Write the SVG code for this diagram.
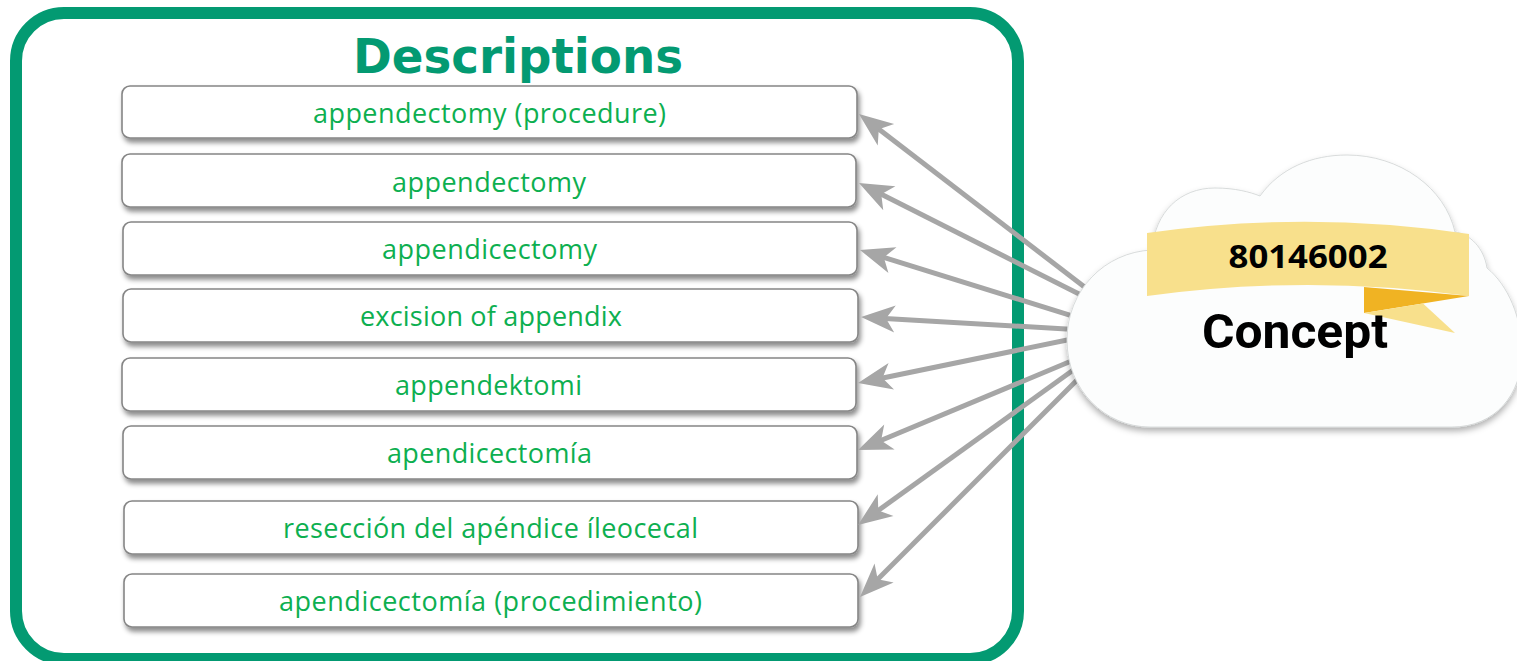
<svg xmlns="http://www.w3.org/2000/svg" width="1517" height="661" viewBox="0 0 1517 661">
<defs>
<style>
.frame{fill:#ffffff;stroke:#039A72;stroke-width:12}
.title{font-family:"DejaVu Sans",Verdana,sans-serif;font-weight:bold;font-size:48px;fill:#039A72}
.box{fill:#ffffff;stroke:#858585;stroke-width:1.6;filter:url(#sh)}
.lbl{font-family:"Open Sans","Noto Sans",sans-serif;font-size:27px;fill:#0DAF50;text-anchor:middle}
.conn{stroke:#A6A6A6;stroke-width:5;fill:none;marker-end:url(#ah)}
.cloud{fill:#FCFDFD;stroke:#cfd3d3;stroke-width:0.8;filter:url(#csh)}
.num{font-family:"Open Sans","Liberation Sans",sans-serif;font-weight:bold;font-size:32px;fill:#000;text-anchor:middle}
.con{font-family:Roboto,"Liberation Sans",Arial,sans-serif;font-weight:bold;font-size:48px;fill:#000;text-anchor:middle}
</style>
<filter id="sh" x="-5%" y="-30%" width="110%" height="170%">
<feDropShadow dx="2" dy="4" stdDeviation="2.5" flood-color="#000" flood-opacity="0.45"/>
</filter>
<filter id="csh" x="-10%" y="-10%" width="120%" height="130%">
<feDropShadow dx="0" dy="4" stdDeviation="3" flood-color="#000" flood-opacity="0.3"/>
</filter>
<marker id="ah" markerUnits="userSpaceOnUse" orient="auto" markerWidth="40" markerHeight="32" viewBox="-12 -16 40 32" refX="0" refY="0">
<path d="M24,0 L-10,-13.5 L-1,0 L-10,13.5 Z" fill="#A6A6A6"/>
</marker>
</defs>

<g id="frame">
<rect class="frame" x="16" y="13" width="1002" height="646" rx="48" ry="48"/>
<text class="title" x="518" y="73" text-anchor="middle" textLength="330" lengthAdjust="spacingAndGlyphs">Descriptions</text>
</g>

<g id="d1"><rect class="box" x="122" y="86" width="735" height="52" rx="8"/><text class="lbl" x="489.5" y="123" textLength="353" lengthAdjust="spacing">appendectomy (procedure)</text></g>
<g id="d2"><rect class="box" x="122" y="154" width="734" height="53" rx="8"/><text class="lbl" x="489" y="192" textLength="194" lengthAdjust="spacing">appendectomy</text></g>
<g id="d3"><rect class="box" x="123" y="222" width="734" height="53" rx="8"/><text class="lbl" x="489.5" y="259" textLength="215" lengthAdjust="spacing">appendicectomy</text></g>
<g id="d4"><rect class="box" x="123" y="289" width="735" height="53" rx="8"/><text class="lbl" x="491" y="326" textLength="262" lengthAdjust="spacing">excision of appendix</text></g>
<g id="d5"><rect class="box" x="122" y="358" width="734" height="53" rx="8"/><text class="lbl" x="488.5" y="395" textLength="187" lengthAdjust="spacing">appendektomi</text></g>
<g id="d6"><rect class="box" x="123" y="426" width="734" height="53" rx="8"/><text class="lbl" x="489.5" y="463" textLength="205" lengthAdjust="spacing">apendicectomía</text></g>
<g id="d7"><rect class="box" x="124" y="501" width="734" height="53" rx="8"/><text class="lbl" x="490.5" y="538" textLength="415" lengthAdjust="spacing">resección del apéndice íleocecal</text></g>
<g id="d8"><rect class="box" x="124" y="574" width="734" height="53" rx="8"/><text class="lbl" x="490.5" y="611" textLength="423" lengthAdjust="spacing">apendicectomía (procedimiento)</text></g>

<g id="connectors">
<line class="conn" x1="1097.9" y1="297.2" x2="878.0" y2="128.6"/>
<line class="conn" x1="1094.9" y1="302.0" x2="880.4" y2="193.8"/>
<line class="conn" x1="1088.1" y1="320.9" x2="882.9" y2="257.1"/>
<line class="conn" x1="1087.0" y1="330.2" x2="885.0" y2="318.4"/>
<line class="conn" x1="1086.6" y1="336.0" x2="881.5" y2="378.2"/>
<line class="conn" x1="1087.5" y1="354.3" x2="880.2" y2="440.8"/>
<line class="conn" x1="1088.2" y1="359.3" x2="877.5" y2="511.0"/>
<line class="conn" x1="1090.1" y1="366.9" x2="877.0" y2="580.0"/>
</g>

<g id="concept">
<path class="cloud" d="M1150,427 C1105,427 1067,390 1067,340 C1067,290 1105,252 1152,250 C1155,212 1180,188 1215,188 C1235,188 1250,192 1260,196 C1280,168 1312,155 1347,155 C1400,155 1445,188 1455,232 C1470,234 1484,248 1487,268 C1508,285 1522,318 1522,352 C1522,395 1495,427 1452,427 Z"/>
<path d="M1147,233 Q1308,210 1469,234 L1469,296 Q1308,274 1147,296 Z" fill="#F8E08C"/>
<path d="M1364,287 L1469,296 L1364,313 Z" fill="#F0B323"/>
<path d="M1364,313 L1423,303.5 L1455,333 Z" fill="#F8E08C"/>
<text class="num" x="1308" y="268" textLength="159" lengthAdjust="spacingAndGlyphs">80146002</text>
<text class="con" x="1295" y="348" textLength="186" lengthAdjust="spacingAndGlyphs">Concept</text>
</g>
</svg>
